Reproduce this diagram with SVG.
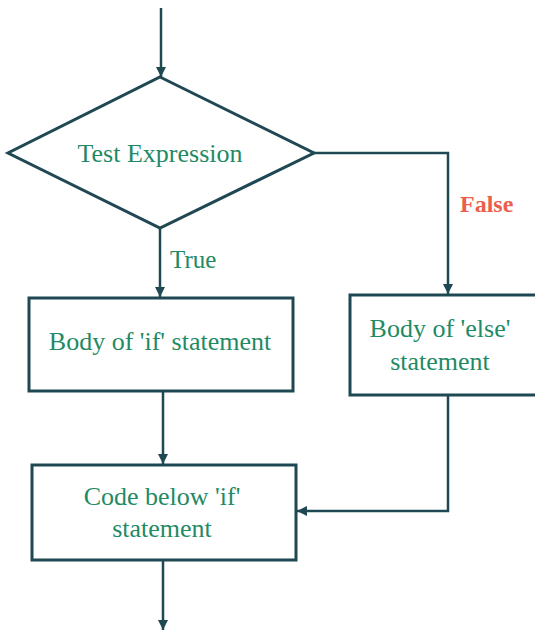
<svg xmlns="http://www.w3.org/2000/svg" width="535" height="630" viewBox="0 0 535 630">
  <defs>
    <marker id="arrow" viewBox="0 0 10 10" refX="10" refY="5" markerWidth="4" markerHeight="4" orient="auto" markerUnits="strokeWidth">
      <path d="M0,0 L10,5 L0,10 z" fill="#1f4853"/>
    </marker>
    <style>
      .shape { fill: #ffffff; stroke: #1f4853; stroke-width: 3; }
      .edge { fill: none; stroke: #1f4853; stroke-width: 2.5; marker-end: url(#arrow); }
      text { font-family: 'Liberation Serif', 'DejaVu Serif', serif; }
      .label { font-size: 26px; fill: #1f8a64; text-anchor: middle; }
      .false { font-size: 24px; font-weight: bold; fill: #ec5e4c; }
      .true { font-size: 25px; fill: #1f8a64; }
    </style>
  </defs>
  <rect width="535" height="630" fill="#ffffff"/>

  <g id="connectors">
    <path class="edge" d="M161,8 L161,77"/>
    <path class="edge" d="M160,228 L160,297"/>
    <path class="edge" d="M314,153 L448,153 L448,294"/>
    <path class="edge" d="M163,391 L163,464"/>
    <path class="edge" d="M448,395 L448,511 L297,511"/>
    <path class="edge" d="M163,560 L163,630"/>
    <text class="true" x="170" y="268">True</text>
    <text class="false" x="460" y="212">False</text>
  </g>

  <g id="test-expression">
    <polygon class="shape" points="160,77 314,153 160,228 8,153"/>
    <text class="label" x="160" y="162">Test Expression</text>
  </g>

  <g id="body-if">
    <rect class="shape" x="29" y="298" width="264" height="93"/>
    <text class="label" x="160" y="350">Body of 'if' statement</text>
  </g>

  <g id="body-else">
    <rect class="shape" x="350" y="295" width="195" height="100"/>
    <text class="label" x="440" y="337">Body of 'else'</text>
    <text class="label" x="440" y="370">statement</text>
  </g>

  <g id="code-below">
    <rect class="shape" x="32" y="465" width="264" height="95"/>
    <text class="label" x="162" y="505">Code below 'if'</text>
    <text class="label" x="162" y="537">statement</text>
  </g>
</svg>
